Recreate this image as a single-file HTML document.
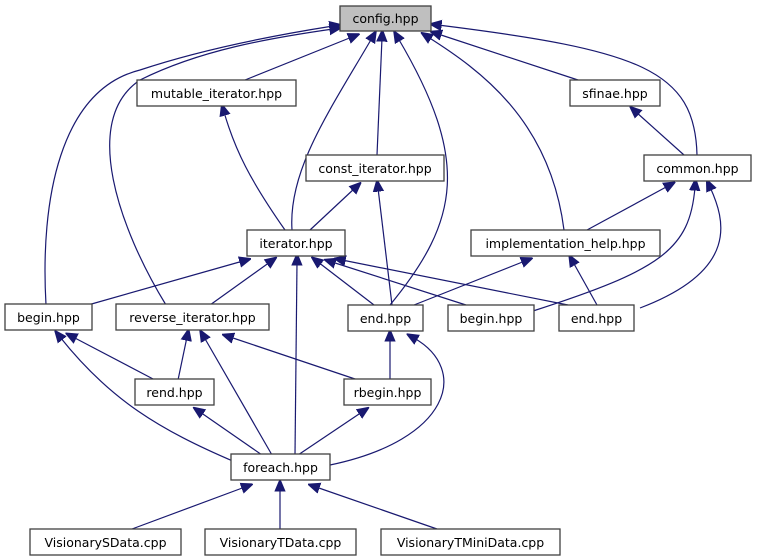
<!DOCTYPE html>
<html><head><meta charset="utf-8"><style>
html,body{margin:0;padding:0;background:#fff;}
svg{display:block;}
text{font-family:"DejaVu Sans","Liberation Sans",sans-serif;font-size:12.5px;fill:#000;}
.b{fill:#fff;stroke:#404040;stroke-width:1.3;}
.e{fill:none;stroke:#191970;stroke-width:1.2;}
</style></head><body>
<svg width="757" height="560" viewBox="0 0 757 560">
<defs><marker id="a" viewBox="0 0 10 10" refX="3" refY="5" markerWidth="12" markerHeight="12" markerUnits="userSpaceOnUse" orient="auto"><path d="M0,0.8 L10,5 L0,9.2 z" fill="#191970" stroke="#191970"/></marker></defs>
<g class="e" marker-end="url(#a)">
<path d="M245,80 L352,37"/>
<path d="M292,230 C288,170 330,110 372,38"/>
<path d="M377,155 L382,38"/>
<path d="M390,305 C460,220 470,160 398,38"/>
<path d="M564,230 C550,120 480,70 428,37"/>
<path d="M578,80 L438,34"/>
<path d="M697,155 C695,70 640,50 438,25"/>
<path d="M46,305 C40,200 60,90 140,70 C200,50 270,36 333,26"/>
<path d="M166,305 C120,230 80,120 140,80 C200,50 270,38 333,29"/>
<path d="M684,155 L636,112"/>
<path d="M285,230 C250,180 235,150 224,112"/>
<path d="M310,230 L355,188"/>
<path d="M392,305 L378,188"/>
<path d="M587,230 L668,186"/>
<path d="M533,311 C660,270 690,250 695,187"/>
<path d="M640,308 C740,270 725,220 710,187"/>
<path d="M414,305 L525,261"/>
<path d="M597,305 L573,262"/>
<path d="M88,305 L243,261"/>
<path d="M210,305 L270,262"/>
<path d="M374,305 L318,262"/>
<path d="M466,305 L332,262"/>
<path d="M568,305 L342,260"/>
<path d="M295,455 L297,262"/>
<path d="M235,462 C160,430 110,400 60,337"/>
<path d="M155,380 L73,337"/>
<path d="M178,380 L187,337"/>
<path d="M272,455 L204,337"/>
<path d="M358,380 L230,337"/>
<path d="M390,380 L390,338"/>
<path d="M330,465 C450,440 470,370 414,338"/>
<path d="M262,455 L200,412"/>
<path d="M298,455 L362,412"/>
<path d="M132,529 L245,487"/>
<path d="M280,529 L280,488"/>
<path d="M437,529 L316,487"/>
</g>
<rect x="340" y="6" width="91" height="25" fill="#bfbfbf" stroke="#404040" stroke-width="1.3"/>
<text x="385.5" y="23" text-anchor="middle">config.hpp</text>
<rect class="b" x="137" y="80" width="159" height="26"/><text x="216.5" y="98" text-anchor="middle">mutable_iterator.hpp</text>
<rect class="b" x="570" y="80" width="90" height="26"/><text x="615" y="98" text-anchor="middle">sfinae.hpp</text>
<rect class="b" x="306" y="155" width="138" height="26"/><text x="375" y="173" text-anchor="middle">const_iterator.hpp</text>
<rect class="b" x="644" y="155" width="107" height="26"/><text x="697.5" y="173" text-anchor="middle">common.hpp</text>
<rect class="b" x="247" y="230" width="98" height="26"/><text x="296" y="248" text-anchor="middle">iterator.hpp</text>
<rect class="b" x="471" y="230" width="189" height="26"/><text x="565.5" y="248" text-anchor="middle">implementation_help.hpp</text>
<rect class="b" x="5" y="304" width="87" height="26"/><text x="48.5" y="322" text-anchor="middle">begin.hpp</text>
<rect class="b" x="116" y="304" width="153" height="26"/><text x="192.5" y="322" text-anchor="middle">reverse_iterator.hpp</text>
<rect class="b" x="348" y="305" width="75" height="26"/><text x="385.5" y="323" text-anchor="middle">end.hpp</text>
<rect class="b" x="448" y="305" width="86" height="26"/><text x="491" y="323" text-anchor="middle">begin.hpp</text>
<rect class="b" x="559" y="305" width="75" height="26"/><text x="596.5" y="323" text-anchor="middle">end.hpp</text>
<rect class="b" x="135" y="379" width="79" height="26"/><text x="174.5" y="397" text-anchor="middle">rend.hpp</text>
<rect class="b" x="344" y="379" width="87" height="26"/><text x="387.5" y="397" text-anchor="middle">rbegin.hpp</text>
<rect class="b" x="231" y="454" width="99" height="26"/><text x="280.5" y="472" text-anchor="middle">foreach.hpp</text>
<rect class="b" x="30" y="529" width="151" height="26"/><text x="105.5" y="547" text-anchor="middle">VisionarySData.cpp</text>
<rect class="b" x="205" y="529" width="151" height="26"/><text x="280.5" y="547" text-anchor="middle">VisionaryTData.cpp</text>
<rect class="b" x="381" y="529" width="179" height="26"/><text x="470.5" y="547" text-anchor="middle">VisionaryTMiniData.cpp</text>
</svg>
</body></html>
